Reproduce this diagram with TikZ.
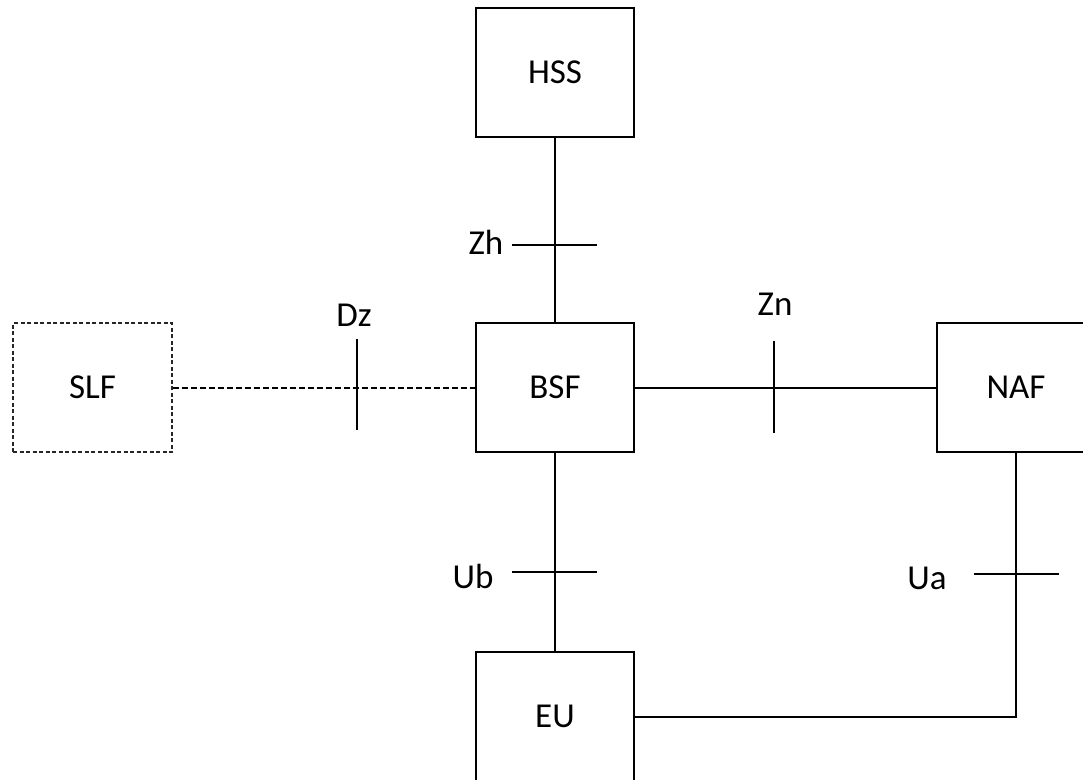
\documentclass[tikz,border=0pt]{standalone}
\usepackage{fontspec}
\setmainfont{Carlito}
\begin{document}
\begin{tikzpicture}[x=1pt,y=-1pt,
  entity/.style={draw=black,line width=1.2pt,rectangle,inner sep=0pt,
    minimum width=158pt,minimum height=129pt,font=\fontsize{35}{42}\selectfont},
  optentity/.style={entity,dash pattern=on 4pt off 2.5pt,draw=black!85},
  link/.style={line width=2pt,black},
  optlink/.style={link,dash pattern=on 6pt off 3pt},
  tick/.style={line width=2pt,black},
  ifname/.style={font=\fontsize{35}{42}\selectfont,inner sep=0pt}]
  \useasboundingbox (0,0) rectangle (1083,779);
  \fill[white] (0,0) rectangle (1083,779);

  % functional entities
  \node[entity] (hss) at (555,72.5) {HSS};
  \node[entity] (bsf) at (555,387.5) {BSF};
  \node[optentity,minimum width=159pt] (slf) at (92.5,387.5) {SLF};
  \node[entity] (naf) at (1016,387.5) {NAF};
  \node[entity] (eu) at (555,716.5) {EU};

  % reference points
  \draw[link] (hss.south) -- (bsf.north);
  \draw[optlink] (slf.east) -- (bsf.west);
  \draw[link] (bsf.east) -- (naf.west);
  \draw[link] (bsf.south) -- (eu.north);
  \draw[link] (naf.south) |- (eu.east);

  % interface marks
  \coordinate (zhL) at (512,245); \coordinate (zhR) at (597,245);
  \coordinate (dzT) at (357,339); \coordinate (dzB) at (357,430);
  \coordinate (znT) at (774,341); \coordinate (znB) at (774,433);
  \coordinate (ubL) at (512,572); \coordinate (ubR) at (597,572);
  \coordinate (uaL) at (974,574); \coordinate (uaR) at (1059,574);
  \draw[tick] (zhL) -- (zhR);
  \draw[tick] (dzT) -- (dzB);
  \draw[tick] (znT) -- (znB);
  \draw[tick] (ubL) -- (ubR);
  \draw[tick] (uaL) -- (uaR);

  % interface names
  \node[ifname] (zh) at (486,242) {Zh};
  \node[ifname] (dz) at (354,315) {Dz};
  \node[ifname] (zn) at (775,304) {Zn};
  \node[ifname] (ub) at (473,576) {Ub};
  \node[ifname] (ua) at (927,578) {Ua};
\end{tikzpicture}
\end{document}
